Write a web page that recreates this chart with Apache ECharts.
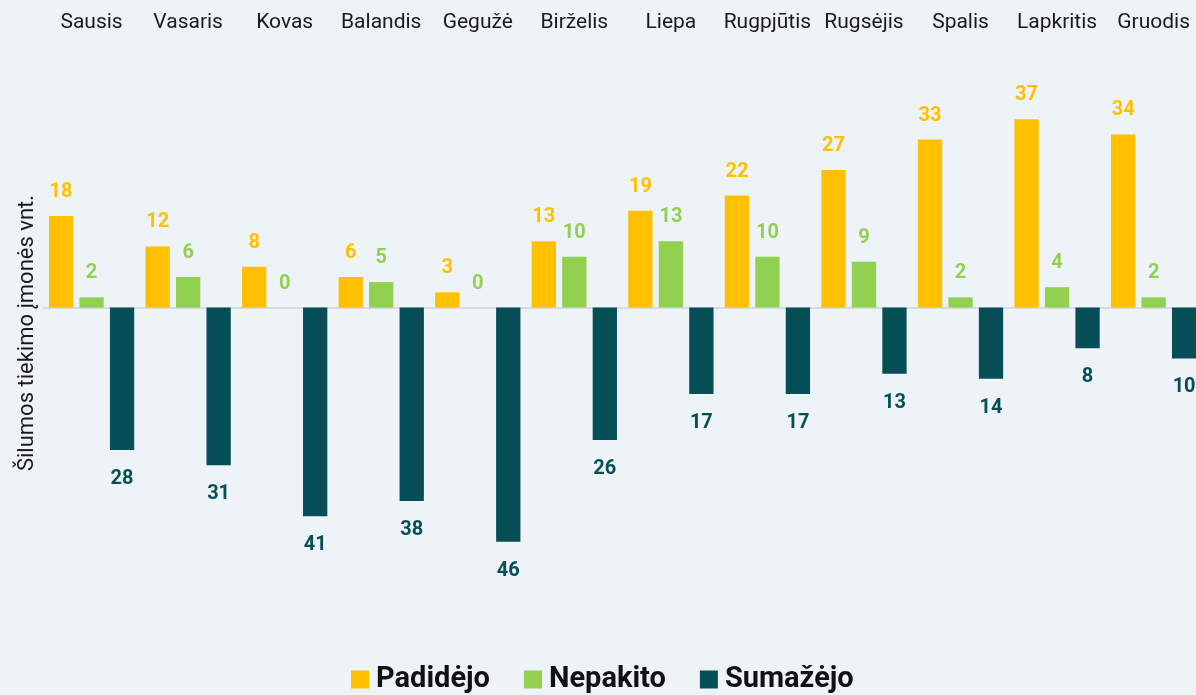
<!DOCTYPE html>
<html>
<head>
<meta charset="utf-8">
<script src="https://cdn.jsdelivr.net/npm/echarts@6/dist/echarts.min.js"></script>
<style>
html,body{margin:0;padding:0;background:#eef3f7;overflow:hidden;}
#c{width:1230px;height:695px;}
</style>
</head>
<body>
<div id="c"></div>
<script>
var months = ['Sausis','Vasaris','Kovas','Balandis','Gegužė','Birželis','Liepa','Rugpjūtis','Rugsėjis','Spalis','Lapkritis','Gruodis'];
var padidejo = [18,12,8,6,3,13,19,22,27,33,37,34];
var nepakito = [2,6,0,5,0,10,13,10,9,2,4,2];
var sumazejo = [-28,-31,-41,-38,-46,-26,-17,-17,-13,-14,-8,-10];
var seriesNames = ['Padidėjo','Nepakito','Sumažėjo'];
var colors = ['#FFC000','#92D050','#074F57'];
var yName = 'Šilumos tiekimo įmonės vnt.';

var chart = echarts.init(document.getElementById('c'));
var font = 'Roboto';
function lbl(color, pos, dist){
  return {show:true, position:pos, distance:dist, color:color, fontFamily:font, fontWeight:'bold', fontSize:20,
    formatter:function(p){return Math.abs(p.value);}};
}
chart.setOption({
  backgroundColor:'#eef3f7',
  animation:false,
  color:colors,
  grid:{left:43.3, top:53, width:1158.6, height:560},
  xAxis:[
    {type:'category', data:months, axisTick:{show:false}, axisLabel:{show:false},
     axisLine:{show:true, onZero:true, lineStyle:{color:'#d0d4d8', width:1.5}}},
    {type:'category', position:'top', data:months, axisTick:{show:false}, axisLine:{show:false},
     axisLabel:{show:true, interval:0, margin:20, color:'#1a1a1a', fontFamily:font, fontSize:21}}
  ],
  yAxis:{type:'value', min:-60, max:50, axisLine:{show:false}, axisTick:{show:false}, axisLabel:{show:false}, splitLine:{show:false},
     name:yName, nameLocation:'middle', nameGap:5, nameRotate:90, nameTextStyle:{color:'#1a1a1a', fontFamily:font, fontSize:22}},
  legend:{
    data:seriesNames, left:351, top:665, padding:0, icon:'rect', itemWidth:18, itemHeight:18, itemGap:34,
    textStyle:{color:'#111', fontFamily:font, fontWeight:'bold', fontSize:29, padding:[0,0,0,2]}
  },
  series:[
    {name:seriesNames[0], type:'bar', data:padidejo, barWidth:24.3, barGap:'25.5%', label:lbl(colors[0],'top',14)},
    {name:seriesNames[1], type:'bar', data:nepakito, barWidth:24.3, barGap:'25.5%', label:lbl(colors[1],'top',14)},
    {name:seriesNames[2], type:'bar', data:sumazejo, barWidth:24.3, barGap:'25.5%', label:lbl(colors[2],'bottom',19)}
  ]
});
</script>
</body>
</html>
